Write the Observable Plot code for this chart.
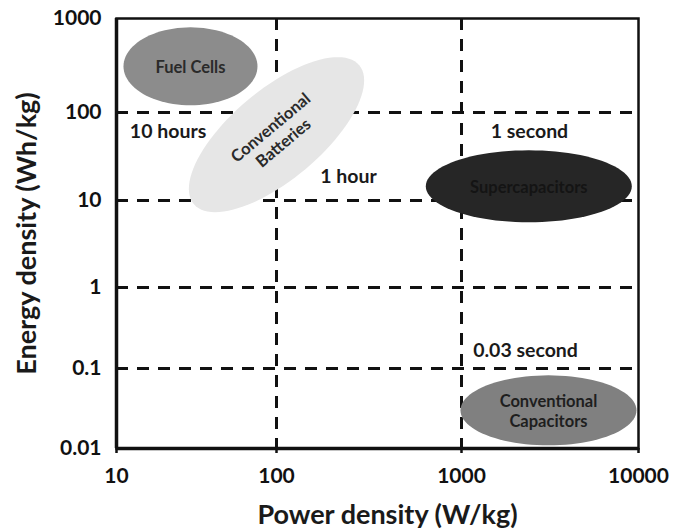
<!DOCTYPE html>
<html>
<head>
<meta charset="utf-8">
<script src="https://cdn.jsdelivr.net/npm/d3@7"></script>
<script src="https://cdn.jsdelivr.net/npm/@observablehq/plot@0.6"></script>
<style>
  html, body { margin: 0; padding: 0; background: #fff; }
  #chart { width: 681px; height: 531px; }
</style>
</head>
<body>
<div id="chart"></div>
<script>
// ---- data ----
const xTicks = [10, 100, 1000, 10000];
const xTickLabels = ["10", "100", "1000", "10000"];
const yTicks = [0.01, 0.1, 1, 10, 100, 1000];
const yTickLabels = ["0.01", "0.1", "1", "10", "100", "1000"];
const vGrid = [100, 1000];          // W/kg
const hGrid = [0.1, 1, 10, 100];    // Wh/kg
const devices = ["Fuel Cells", "Conventional\nBatteries", "Supercapacitors", "Conventional\nCapacitors"];
const devicePower = [29, 100, 2400, 3100];
const deviceEnergy = [310, 56, 14.5, 0.03];
const timeLabels = ["10 hours", "1 hour", "1 second", "0.03 second"];
const timePower = [21, 245, 2420, 2300];
const timeEnergy = [61, 18.7, 61, 0.167];

// ---- ellipse symbol ----
function ellipse(rx, ry, angleDeg) {
  const a = angleDeg * Math.PI / 180, c = Math.cos(a), s = Math.sin(a);
  return {
    draw(ctx) {
      const n = 96;
      for (let i = 0; i <= n; i++) {
        const t = 2 * Math.PI * i / n;
        const ex = rx * Math.cos(t), ey = ry * Math.sin(t);
        const px = ex * c - ey * s, py = ex * s + ey * c;
        if (i === 0) ctx.moveTo(px, py); else ctx.lineTo(px, py);
      }
      ctx.closePath();
    }
  };
}
const idx = devices.map((d, i) => i);
const styles = [
  {rx: 67, ry: 39, angle: 0, fill: "#8c8c8c"},
  {rx: 108, ry: 45, angle: -40, fill: "#e6e6e6"},
  {rx: 103, ry: 36, angle: 0, fill: "#262626"},
  {rx: 88, ry: 35, angle: 0, fill: "#808080"}
];
const textColors = ["#2a2a2a", "#2a2a2a", "#141414", "#1e1e1e"];

const ellipseMarks = idx.map(k => Plot.dot([k], {
  x: i => devicePower[i], y: i => deviceEnergy[i], r: 10,
  symbol: ellipse(styles[k].rx, styles[k].ry, styles[k].angle),
  fill: styles[k].fill, stroke: "none"
}));
const ellipseText = idx.map(k => Plot.text([k], {
  x: i => devicePower[i], y: i => deviceEnergy[i], text: i => devices[i],
  rotate: styles[k].angle, fill: textColors[k], fontSize: 16.5, fontWeight: "bold", lineHeight: 1.2
}));

const chart = Plot.plot({
  width: 681, height: 531,
  marginLeft: 116, marginRight: 43, marginTop: 18, marginBottom: 83,
  style: {fontFamily: "Lato, 'Open Sans', sans-serif", color: "#111", background: "#fff"},
  x: {type: "log", domain: xTicks, range: [116, 276, 461, 638]},
  y: {type: "log", domain: yTicks, range: [448, 368, 287, 200, 112, 18]},
  marks: [
    Plot.frame({stroke: "#111", strokeWidth: 2.5}),
    Plot.ruleX(vGrid, {stroke: "#111", strokeWidth: 3, strokeDasharray: "12,9"}),
    Plot.ruleY(hGrid, {stroke: "#111", strokeWidth: 3, strokeDasharray: "12,9"}),
    ...ellipseMarks,
    ...ellipseText,
    Plot.ruleX([xTicks[0]], {stroke: "#111", strokeWidth: 3.5}),
    Plot.ruleY([yTicks[0]], {stroke: "#111", strokeWidth: 3.5}),
    Plot.axisX({ticks: xTicks, tickFormat: d => xTickLabels[xTicks.indexOf(d)], tickSize: 5, tickPadding: 15,
      fontSize: 21, fontWeight: "bold", label: null, strokeWidth: 2.5}),
    Plot.axisY({ticks: yTicks, tickFormat: d => yTickLabels[yTicks.indexOf(d)], tickSize: 0, tickPadding: 15,
      fontSize: 21, fontWeight: "bold", label: null}),
    Plot.text(timeLabels, {x: (d, i) => timePower[i], y: (d, i) => timeEnergy[i], text: d => d,
      fontSize: 19.5, fontWeight: "bold", fill: "#1a1a1a"}),
    Plot.text(["Power density (W/kg)"], {frameAnchor: "bottom", dx: 10, dy: 67, lineAnchor: "middle",
      textAnchor: "middle", text: d => d, fontSize: 27, fontWeight: "bold", fill: "#1a1a1a"}),
    Plot.text(["Energy density (Wh/kg)"], {frameAnchor: "left", dx: -89, rotate: -90, lineAnchor: "middle",
      textAnchor: "middle", text: d => d, fontSize: 27, fontWeight: "bold", fill: "#1a1a1a"})
  ]
});
document.getElementById("chart").appendChild(chart);
</script>
</body>
</html>
